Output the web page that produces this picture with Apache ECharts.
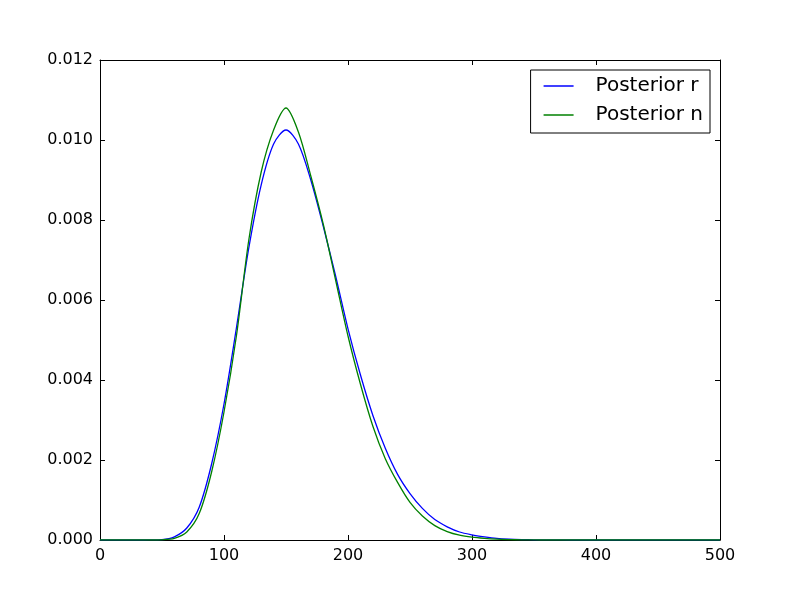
<!DOCTYPE html>
<html>
<head>
<meta charset="utf-8">
<script src="https://cdn.jsdelivr.net/npm/echarts@6/dist/echarts.min.js"></script>
<style>html,body{margin:0;padding:0;background:#fff}#c{width:800px;height:600px}</style>
</head>
<body>
<div id="c"></div>
<script>
const xs = [0,10,20,30,40,50,60,70,80,90,100,110,120,130,140,150,160,170,180,190,200,210,220,230,240,250,260,270,280,290,300,310,320,330,340,350,360,380,400,450,500];
const posteriorR = [0,0,0,0,0.000002,0.00001,0.00008,0.0003,0.00082,0.0019,0.0034,0.0053,0.0073,0.00888,0.0099,0.01025,0.0099,0.0090,0.00785,0.0066,0.00528,0.00413,0.00312,0.0023,0.00164,0.00116,0.00079,0.00051,0.00033,0.0002,0.00013,0.00008,0.00004,0.00002,0.00001,0.000005,0.000002,0,0,0,0];
const posteriorN = [0,0,0,0,0,0.000005,0.00004,0.0002,0.00066,0.0017,0.0032,0.0051,0.0075,0.0092,0.01025,0.0108,0.0102,0.0091,0.0079,0.0065,0.0051,0.0039,0.00285,0.00204,0.00144,0.00094,0.0006,0.00036,0.00021,0.00012,0.00007,0.00004,0.00002,0.00001,0.000004,0.000001,0,0,0,0,0];
const seriesNames = ['Posterior r', 'Posterior n'];

const font = 'DejaVu Sans';
const chart = echarts.init(document.getElementById('c'), null, {renderer: 'canvas'});
const pairs = arr => xs.map((x, i) => [x, arr[i]]);
const axisCommon = {
  axisLine: {show: true, onZero: false, lineStyle: {color: '#000', width: 1}},
  axisTick: {show: true, inside: true, length: 5, lineStyle: {color: '#000'}},
  splitLine: {show: false}
};
chart.setOption({
  animation: false,
  backgroundColor: '#fff',
  grid: {left: 100, right: 80, top: 60, bottom: 60, containLabel: false},
  legend: {
    data: seriesNames,
    orient: 'vertical',
    right: 90,
    top: 70,
    backgroundColor: '#fff',
    borderColor: '#000',
    borderWidth: 1,
    borderRadius: 0,
    padding: [6, 7, 8, 13],
    itemGap: 9,
    itemWidth: 30,
    itemHeight: 1.5,
    icon: 'rect',
    textStyle: {fontFamily: font, fontSize: 20, color: '#000', padding: [0, 0, 0, 17]}
  },
  xAxis: [
    Object.assign({type: 'value', min: 0, max: 500, interval: 100, position: 'bottom',
      axisLabel: {fontFamily: font, fontSize: 16, color: '#000', margin: 8}}, axisCommon),
    Object.assign({type: 'value', min: 0, max: 500, interval: 100, position: 'top',
      axisLabel: {show: false}}, axisCommon)
  ],
  yAxis: [
    Object.assign({type: 'value', min: 0, max: 0.012, interval: 0.002, position: 'left',
      axisLabel: {fontFamily: font, fontSize: 16, color: '#000', margin: 7,
        formatter: v => v.toFixed(3)}}, axisCommon),
    Object.assign({type: 'value', min: 0, max: 0.012, interval: 0.002, position: 'right',
      axisLabel: {show: false}}, axisCommon)
  ],
  series: [
    {name: seriesNames[0], type: 'line', data: pairs(posteriorR), showSymbol: false, symbol: 'none',
      smooth: 0.3, lineStyle: {color: '#0000ff', width: 1.3}, itemStyle: {color: '#0000ff'}, z: 3},
    {name: seriesNames[1], type: 'line', data: pairs(posteriorN), showSymbol: false, symbol: 'none',
      smooth: 0.3, lineStyle: {color: '#008000', width: 1.3}, itemStyle: {color: '#008000'}, z: 4}
  ]
});
</script>
</body>
</html>
